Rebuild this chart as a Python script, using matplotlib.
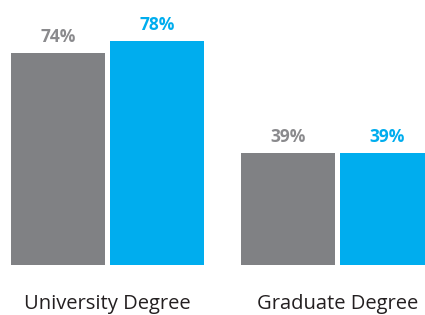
import matplotlib
matplotlib.use("Agg")
import matplotlib.pyplot as plt
import numpy as np

categories = ["University Degree", "Graduate Degree"]
grey_vals = [74, 39]
blue_vals = [78, 39]

GREY, BLUE = "#808184", "#00adee"
plt.rcParams["font.family"] = ["Open Sans", "DejaVu Sans"]

W, H = 425, 315
fig = plt.figure(figsize=(W / 100, H / 100), dpi=100)
ax = fig.add_axes([0, 1 - 265 / H, 1, 265 / H])

w = 1.0
gap = 5 / 94
x = np.arange(len(categories)) * (230 / 94)
xg = x - (w + gap) / 2
xb = x + (w + gap) / 2

bars_g = ax.bar(xg, grey_vals, width=w, color=GREY)
bars_b = ax.bar(xb, blue_vals, width=w, color=BLUE)

for bars, vals, col in [(bars_g, grey_vals, "#8a8a8d"), (bars_b, blue_vals, BLUE)]:
    for b, v in zip(bars, vals):
        ax.annotate(f"{v}%", (b.get_x() + b.get_width() / 2, v),
                    xytext=(0, 5), textcoords="offset points",
                    ha="center", va="bottom", fontsize=12.5,
                    fontweight="bold", color=col)

ax.set_xlim(xg[0] - w / 2 - 11 / 94, xg[0] - w / 2 + 414 / 94)
ax.set_ylim(0, 265 / 2.87)
ax.set_xticks(x, categories)
ax.tick_params(axis="x", length=0, pad=21, labelsize=14.5, labelcolor="#231f20")
ax.set_yticks([])
for s in ax.spines.values():
    s.set_visible(False)

fig.savefig("out.png", dpi=100)
